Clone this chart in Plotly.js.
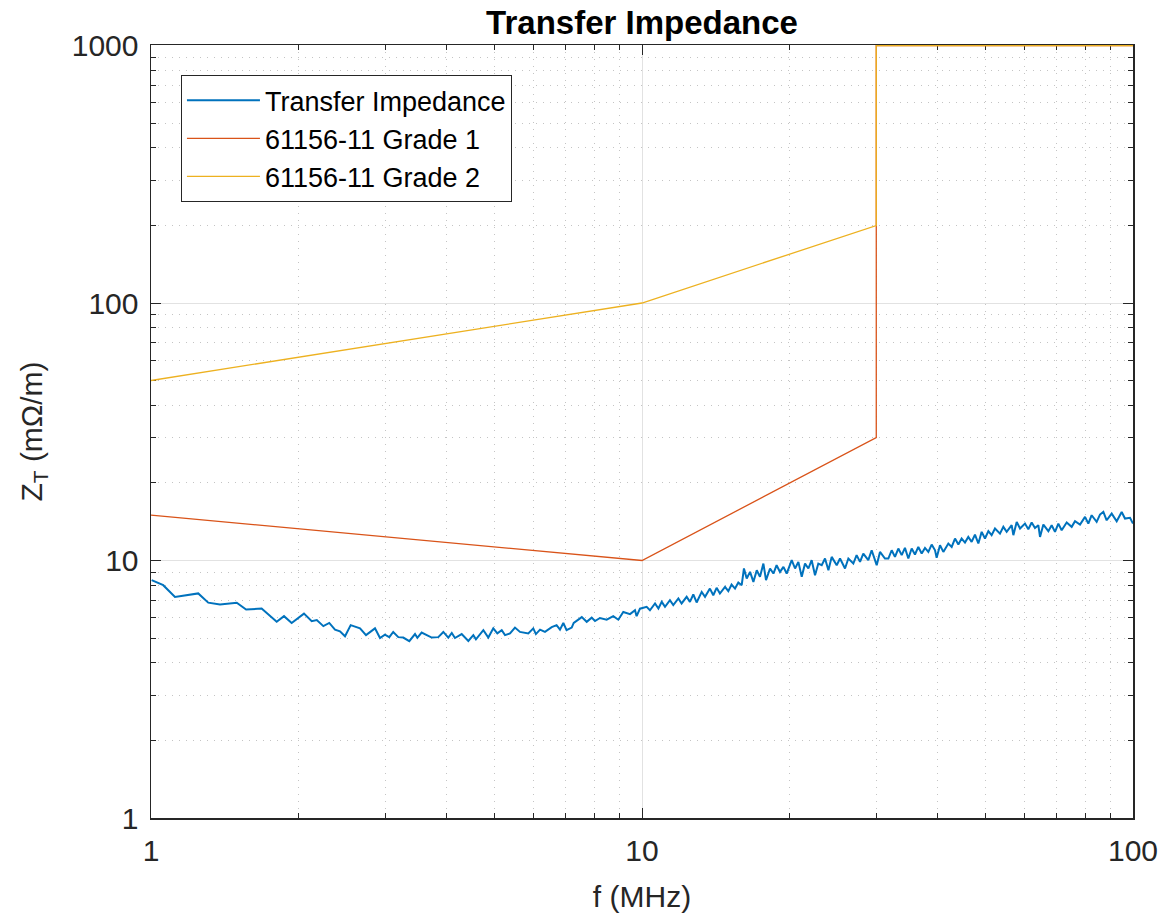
<!DOCTYPE html>
<html>
<head>
<meta charset="utf-8">
<script src="https://cdn.plot.ly/plotly-3.0.1.min.js"></script>
<style>html,body{margin:0;padding:0;background:#fff;}#chart{width:1163px;height:917px;}</style>
</head>
<body>
<div id="chart"></div>
<script>
// ---- data ----
const freqBlue = [
1.003,1.059,1.119,1.248,1.308,1.382,1.495,1.562,1.680,1.803,1.866,1.934,2.049,2.125,2.176,2.244,2.307,2.370,2.426,2.484,
2.551,2.665,2.741,2.859,2.927,2.995,3.057,3.114,3.189,3.264,3.358,3.449,3.487,3.558,3.730,3.847,3.939,4.032,4.098,4.160,
4.293,4.429,4.534,4.590,4.752,4.864,4.979,5.074,5.180,5.260,5.385,5.512,5.643,5.867,6.006,6.080,6.199,6.345,6.548,6.700,
6.807,6.915,7.020,7.192,7.260,7.540,7.716,7.898,8.022,8.212,8.474,8.740,8.948,9.160,9.454,9.677,9.750,9.906,
10.22,10.38,10.63,10.80,10.97,11.14,11.40,11.58,11.86,12.04,12.33,12.52,12.72,12.92,13.23,13.44,13.75,13.97,14.19,14.41,
14.76,14.99,15.22,15.47,15.71,15.96,16.13,16.34,16.60,16.86,17.13,17.39,17.67,17.89,18.23,18.52,18.80,19.10,19.41,19.71,
20.18,20.50,20.82,21.15,21.48,21.82,22.16,22.51,22.86,23.23,23.59,23.97,24.34,24.92,25.31,25.91,26.32,26.94,27.36,27.80,
28.23,28.90,29.36,30.06,30.53,31.25,
31.75,32.25,32.75,33.27,33.80,34.32,34.87,35.42,35.97,36.54,37.12,37.70,38.30,38.90,39.52,39.82,40.45,41.09,42.06,42.73,
43.40,44.09,44.77,45.48,46.19,46.92,47.66,48.42,49.18,49.95,50.75,51.53,52.35,53.59,54.44,55.30,56.61,57.06,57.96,58.88,
60.26,61.21,62.18,63.15,64.15,64.66,65.68,67.24,68.29,69.37,70.46,71.57,73.27,75.01,76.19,78.00,79.86,81.10,82.38,84.33,
85.66,87.02,88.39,90.49,92.64,94.83,96.32,98.61,100.0
];
const ztBlue = [
8.39,8.02,7.22,7.45,6.86,6.75,6.85,6.45,6.51,5.78,6.08,5.72,6.22,5.81,5.87,5.56,5.72,5.39,5.31,5.08,
5.61,5.45,5.13,5.45,5.00,5.15,5.04,5.28,5.04,5.02,4.86,5.18,5.01,5.25,5.02,5.04,5.28,5.02,5.23,5.00,
5.18,4.87,5.13,4.94,5.36,5.02,5.45,5.21,5.36,5.13,5.21,5.49,5.28,5.21,5.45,5.18,5.39,5.28,5.51,5.61,
5.39,5.72,5.36,5.49,5.72,6.03,5.78,6.00,5.82,5.98,5.89,6.08,5.89,6.31,6.19,6.41,6.08,6.50,
6.61,6.41,6.81,6.51,6.91,6.61,7.01,6.71,7.12,6.81,7.23,6.91,7.38,6.87,7.55,7.23,7.78,7.33,7.83,7.44,
7.90,7.60,8.07,7.78,8.21,8.02,9.31,8.51,9.03,8.26,9.17,8.64,9.73,8.39,9.31,8.90,9.59,9.03,9.45,8.90,
10.03,9.31,9.88,8.64,9.73,9.31,10.03,8.77,9.73,9.59,10.18,9.17,10.33,9.59,10.18,9.31,10.18,9.73,10.49,9.88,
10.64,10.03,10.96,9.59,10.80,10.18,
10.18,10.96,10.33,11.13,10.49,11.19,10.18,11.13,10.55,11.29,10.64,11.19,10.80,11.53,10.96,10.24,11.47,10.80,11.64,11.29,
12.17,11.53,12.17,11.74,12.35,11.81,12.61,11.64,12.92,12.17,13.00,12.54,13.31,12.72,13.51,12.92,13.71,12.54,14.12,13.31,
13.91,13.23,14.04,13.38,13.71,12.35,13.79,13.00,13.71,12.92,13.91,13.11,14.04,13.51,14.21,13.79,14.77,13.91,14.99,14.12,
15.08,15.44,14.33,15.21,14.21,15.44,14.55,14.64,13.91
];
const freqGrade1 = [1, 10, 30, 30, 100];
const ztGrade1   = [15, 10, 30, 1000, 1000];
const freqGrade2 = [1, 10, 30, 30, 100];
const ztGrade2   = [50, 100, 200, 1000, 1000];

const xTickVals = [1, 10, 100];
const xTickText = ['1', '10', '100'];
const yTickVals = [1, 10, 100, 1000];
const yTickText = ['1', '10', '100', '1000'];
const xMinorVals = [2,3,4,5,6,7,8,9,20,30,40,50,60,70,80,90];
const yMinorVals = [2,3,4,5,6,7,8,9,20,30,40,50,60,70,80,90,200,300,400,500,600,700,800,900];

const seriesNames = ['Transfer Impedance', '61156-11 Grade 1', '61156-11 Grade 2'];
const seriesColors = ['#0072BD', '#D95319', '#EDB120'];

// ---- chart ----
const traces = [
  {x: freqBlue, y: ztBlue, name: seriesNames[0], type: 'scatter', mode: 'lines',
   line: {color: seriesColors[0], width: 2}},
  {x: freqGrade1, y: ztGrade1, name: seriesNames[1], type: 'scatter', mode: 'lines',
   line: {color: seriesColors[1], width: 1.3}},
  {x: freqGrade2, y: ztGrade2, name: seriesNames[2], type: 'scatter', mode: 'lines',
   line: {color: seriesColors[2], width: 1.3}}
];

const axisCommon = {
  type: 'log',
  tickmode: 'array',
  ticks: 'inside', ticklen: 10, tickwidth: 1, tickcolor: '#262626',
  showline: true, linecolor: '#262626', linewidth: 1.5, mirror: 'ticks',
  showgrid: true, gridcolor: '#e2e2e2', gridwidth: 1,
  zeroline: false,
  layer: 'below traces',
  tickfont: {size: 30, color: '#262626', family: 'Liberation Sans, Arial, sans-serif'},
  minor: {ticks: 'inside', ticklen: 5, tickwidth: 1, tickcolor: '#262626',
          showgrid: true, gridcolor: '#c4c4c4', griddash: '1px,6px', gridwidth: 1}
};

const layout = {
  width: 1163, height: 917,
  margin: {l: 151, r: 30, t: 45, b: 99, pad: 0},
  paper_bgcolor: '#ffffff', plot_bgcolor: '#ffffff',
  font: {family: 'Liberation Sans, Arial, sans-serif', color: '#262626'},
  title: {text: '<b>Transfer Impedance</b>', font: {size: 33, color: '#000000'},
          x: 0.5, xref: 'paper', xanchor: 'center', y: 1 - 22/917, yref: 'container', yanchor: 'middle'},
  showlegend: true,
  legend: {x: 0.0305, y: 0.961, xanchor: 'left', yanchor: 'top',
           bgcolor: '#ffffff', bordercolor: '#262626', borderwidth: 1,
           font: {size: 27, color: '#000000'}, itemwidth: 73, tracegroupgap: 0},
  xaxis: Object.assign({}, axisCommon, {
    range: [0, 2], tickvals: xTickVals, ticktext: xTickText, ticklabelstandoff: 5,
    minor: Object.assign({}, axisCommon.minor, {tickmode: 'array', tickvals: xMinorVals}),
    title: {text: 'f (MHz)', font: {size: 30, color: '#262626'}, standoff: 20}
  }),
  yaxis: Object.assign({}, axisCommon, {
    range: [0, 3.002], tickvals: yTickVals, ticktext: yTickText, ticklabelstandoff: 5,
    minor: Object.assign({}, axisCommon.minor, {tickmode: 'array', tickvals: yMinorVals}),
    title: {text: 'Z<sub>T</sub> (mΩ/m)', font: {size: 30, color: '#262626'}, standoff: 20}
  })
};

Plotly.newPlot('chart', traces, layout, {staticPlot: true, displayModeBar: false});
</script>
</body>
</html>
